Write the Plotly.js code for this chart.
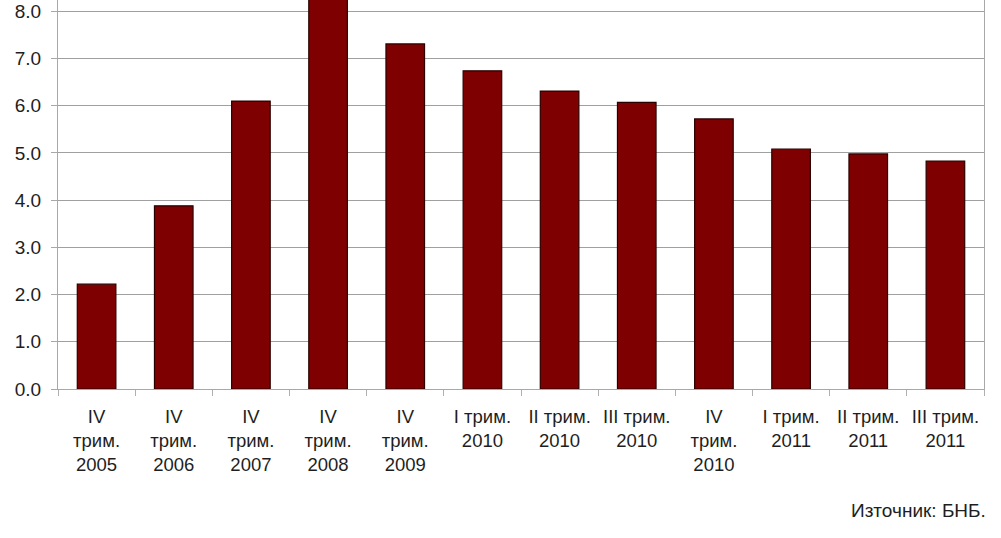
<!DOCTYPE html>
<html>
<head>
<meta charset="utf-8">
<script src="https://cdn.plot.ly/plotly-3.0.1.min.js"></script>
<style>html,body{margin:0;padding:0;background:#fff;}#chart{width:1001px;height:538px;}</style>
</head>
<body>
<div id="chart"></div>
<script>
const categories = [
  "IV<br>трим.<br>2005", "IV<br>трим.<br>2006", "IV<br>трим.<br>2007", "IV<br>трим.<br>2008",
  "IV<br>трим.<br>2009", "I трим.<br>2010", "II трим.<br>2010", "III трим.<br>2010",
  "IV<br>трим.<br>2010", "I трим.<br>2011", "II трим.<br>2011", "III трим.<br>2011"
];
const values = [2.22, 3.88, 6.10, 8.40, 7.31, 6.74, 6.31, 6.07, 5.72, 5.08, 4.98, 4.83];
const yTickVals = [0, 1, 2, 3, 4, 5, 6, 7, 8];
const yTickText = ["0.0", "1.0", "2.0", "3.0", "4.0", "5.0", "6.0", "7.0", "8.0"];
const sourceText = "Източник: БНБ.";

const trace = {
  type: "bar",
  x: categories,
  y: values,
  marker: {color: "#7e0000", line: {color: "#2b0000", width: 1.2}},
  hoverinfo: "none"
};

const layout = {
  width: 1001, height: 538,
  margin: {l: 58, r: 17, t: 0, b: 149},
  paper_bgcolor: "#ffffff", plot_bgcolor: "#ffffff",
  showlegend: false,
  bargap: 0.5,
  font: {family: "Liberation Sans, Arial, sans-serif", color: "#1e1e1e"},
  xaxis: {
    type: "category",
    showline: true, linecolor: "#a8a8a8", linewidth: 1,
    ticks: "outside", tickson: "boundaries", ticklen: 6, tickcolor: "#b0b0b0",
    tickangle: 0,
    ticklabelstandoff: 11,
    tickfont: {size: 18.5, color: "#1e1e1e"},
    showgrid: false, zeroline: false, fixedrange: true
  },
  yaxis: {
    range: [0, 8.24],
    tickvals: yTickVals, ticktext: yTickText,
    showline: true, mirror: true, linecolor: "#a8a8a8", linewidth: 1,
    ticks: "outside", ticklen: 6, tickcolor: "#a8a8a8",
    ticklabelstandoff: 6,
    showgrid: true, gridcolor: "#a0a0a0", gridwidth: 1,
    zeroline: false,
    tickfont: {size: 19, color: "#1e1e1e"},
    fixedrange: true
  },
  annotations: [{
    text: sourceText, xref: "paper", yref: "paper",
    x: (988 - 58) / (1001 - 58 - 17), y: -(510 - 389) / 389,
    xanchor: "right", yanchor: "middle", showarrow: false,
    font: {size: 19, color: "#1e1e1e"}
  }]
};

Plotly.newPlot("chart", [trace], layout, {displayModeBar: false, staticPlot: true});
</script>
</body>
</html>
